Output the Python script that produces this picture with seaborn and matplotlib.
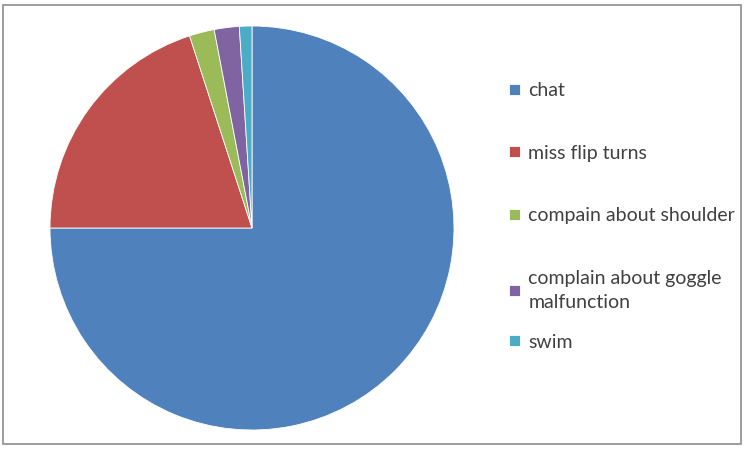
import matplotlib
matplotlib.use('Agg')
import matplotlib.pyplot as plt
from matplotlib.patches import Rectangle
import seaborn as sns

labels = ['chat', 'miss flip turns', 'compain about shoulder',
          'complain about goggle\nmalfunction', 'swim']
values = [75, 20, 2, 2, 1]
colors = ['#4F81BD', '#C0504D', '#9BBB59', '#8064A2', '#4BACC6']

sns.set_theme(style='white')
plt.rcParams['font.family'] = ['Lato', 'DejaVu Sans']

fig = plt.figure(figsize=(7.45, 4.49), dpi=100)
ax = fig.add_axes([50 / 745, 19 / 449, 404 / 745, 404 / 449])

wedges, _ = ax.pie(values, colors=sns.color_palette(colors), startangle=90,
                   counterclock=False,
                   wedgeprops=dict(edgecolor='white', linewidth=0.6))
ax.set_xlim(-1, 1)
ax.set_ylim(-1, 1)
ax.set_aspect('equal')

leg_kw = dict(frameon=False, fontsize=14, handlelength=0.55, handleheight=0.5,
              handletextpad=0.45, borderaxespad=0, borderpad=0)

# excel squeezes the last entry up, so it gets its own legend box
leg1 = fig.legend(wedges[:4], labels[:4], loc='upper left',
                  bbox_to_anchor=(509 / 745, 1 - 82 / 449),
                  labelspacing=2.35, **leg_kw)
leg2 = fig.legend(wedges[4:], labels[4:], loc='center left',
                  bbox_to_anchor=(509 / 745, 1 - 342 / 449), **leg_kw)
for leg in (leg1, leg2):
    for t in leg.get_texts():
        t.set_color('#404040')
        t.set_linespacing(1.5)

# grey frame round the chart area
fig.patches.append(Rectangle((3 / 745, 5 / 449), 738 / 745, 439 / 449,
                             transform=fig.transFigure, fill=False,
                             edgecolor='#8c8c8c', linewidth=1.2))

fig.savefig('out.png', dpi=100)
